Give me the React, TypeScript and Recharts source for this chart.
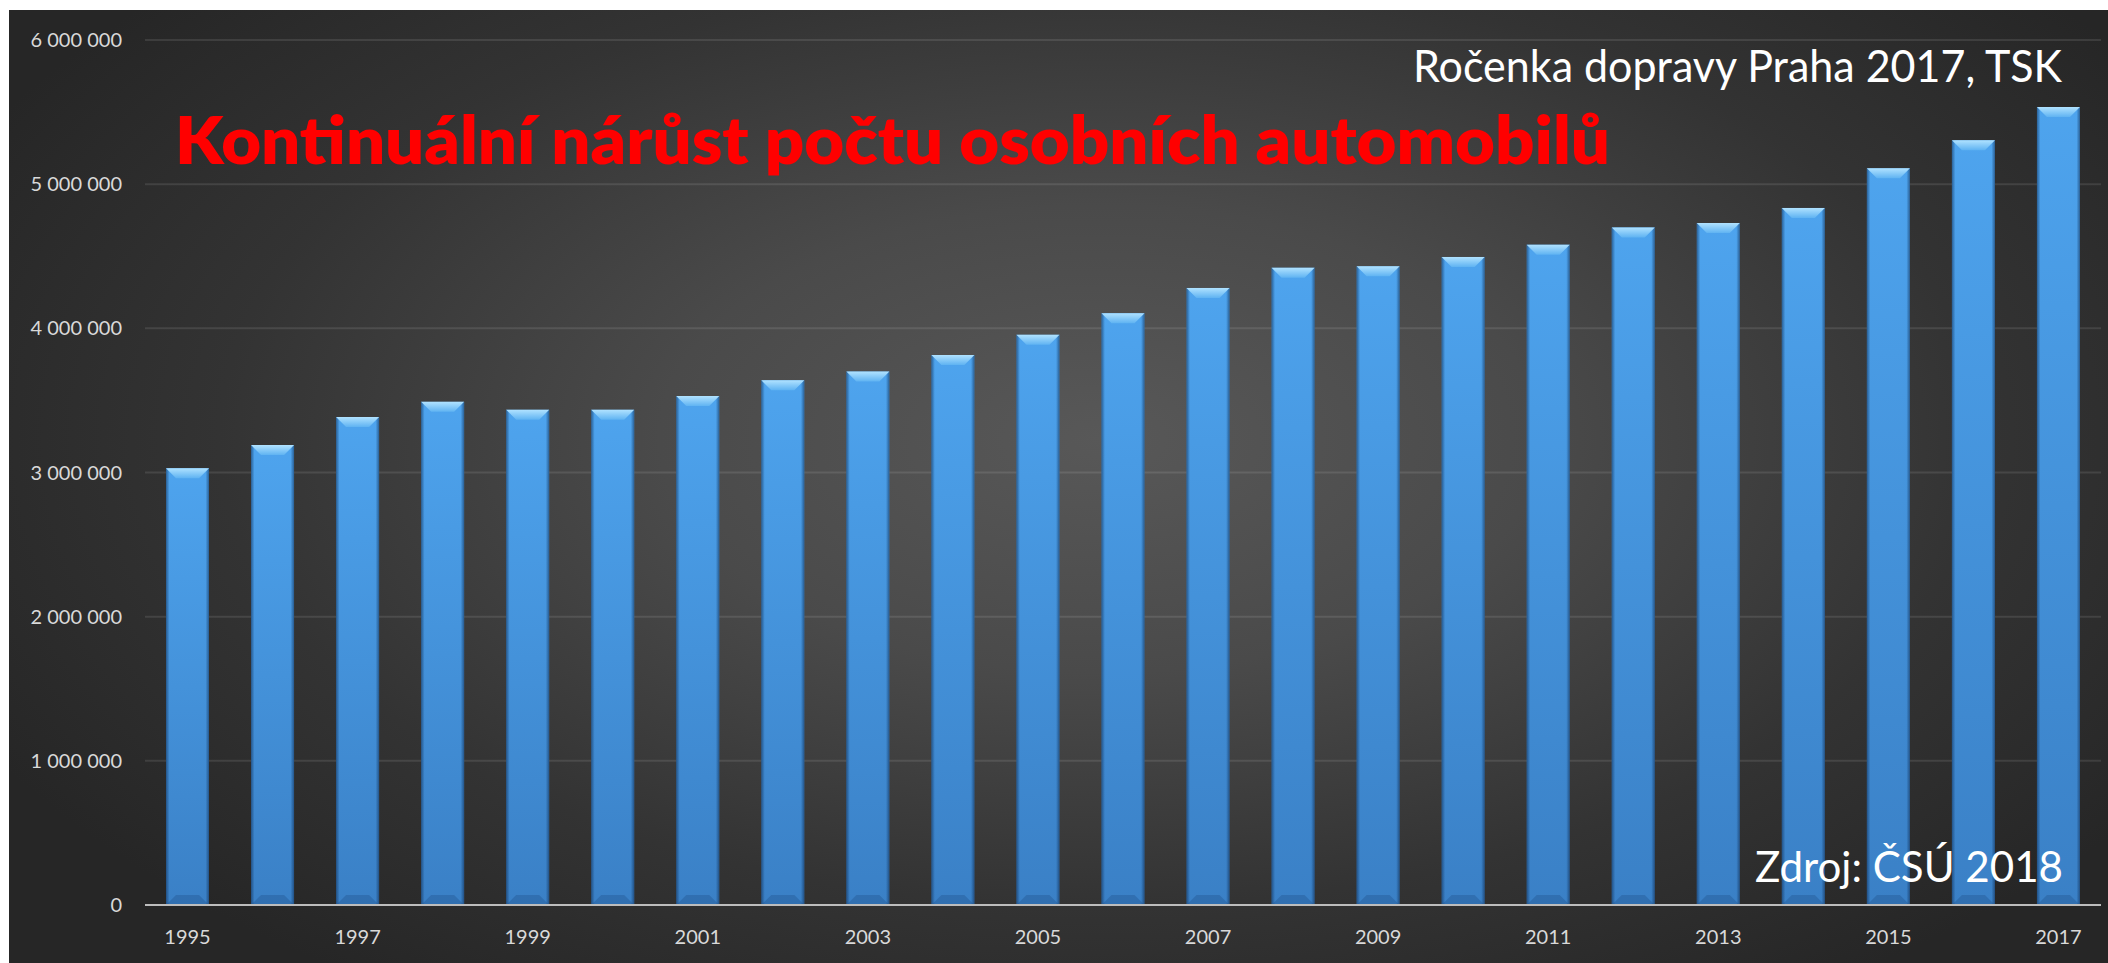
import { BarChart, Bar, XAxis, YAxis, CartesianGrid } from 'recharts';

const YEARS = [
  '1995', '1996', '1997', '1998', '1999', '2000', '2001', '2002', '2003', '2004', '2005', '2006',
  '2007', '2008', '2009', '2010', '2011', '2012', '2013', '2014', '2015', '2016', '2017',
];

// počet osobních automobilů
const CARS = [
  3030000, 3190000, 3385000, 3490000, 3435000, 3435000, 3530000, 3640000, 3700000, 3815000, 3955000, 4105000,
  4280000, 4420000, 4430000, 4495000, 4580000, 4700000, 4730000, 4835000, 5110000, 5305000, 5535000,
];

const Y_TICKS = [0, 1000000, 2000000, 3000000, 4000000, 5000000, 6000000];

const TITLE = 'Kontinuální nárůst počtu osobních automobilů';
const SUBTITLE = 'Ročenka dopravy Praha 2017, TSK';
const SOURCE = 'Zdroj: ČSÚ 2018';

const data = YEARS.map((year, i) => ({ year, value: CARS[i] }));

const W = 2099;
const H = 953;

const fmt = (v: number) => String(v).replace(/\B(?=(\d{3})+(?!\d))/g, ' ');

function BevelBar(props: any) {
  const { x, y, width, height } = props;
  if (!height || height <= 0) return null;
  const b = Math.min(10, width / 4);
  return (
    <g>
      <rect x={x} y={y} width={width} height={height} fill="url(#barBody)" />
      <rect x={x} y={y} width={width} height={height} fill="url(#barEdge)" />
      <polygon
        points={`${x},${y} ${x + width},${y} ${x + width - b},${y + b} ${x + b},${y + b}`}
        fill="url(#barTop)"
      />
      <polygon
        points={`${x},${y + height} ${x + width},${y + height} ${x + width - b},${y + height - b} ${x + b},${y + height - b}`}
        fill="rgba(20,60,110,0.25)"
      />
    </g>
  );
}

export default function App() {
  return (
    <div
      style={{
        position: 'absolute',
        left: 9,
        top: 10,
        width: W,
        height: H,
        background: 'radial-gradient(ellipse 60% 70% at 52% 45%, #585858 0%, #4a4a4a 35%, #333333 70%, #262626 100%)',
        fontFamily: 'Lato, "Open Sans", sans-serif',
      }}
    >
      <BarChart width={W} height={H} data={data} margin={{ top: 30, right: 7, bottom: 0, left: 0 }}>
        <defs>
          <linearGradient id="barBody" x1="0" y1="0" x2="0" y2="1">
            <stop offset="0%" stopColor="#4ea4ee" />
            <stop offset="100%" stopColor="#3a80c6" />
          </linearGradient>
          <linearGradient id="barEdge" x1="0" y1="0" x2="1" y2="0">
            <stop offset="0%" stopColor="#0d2a50" stopOpacity={0.55} />
            <stop offset="8%" stopColor="#0d2a50" stopOpacity={0} />
            <stop offset="92%" stopColor="#0d2a50" stopOpacity={0} />
            <stop offset="100%" stopColor="#0d2a50" stopOpacity={0.55} />
          </linearGradient>
          <linearGradient id="barTop" x1="0" y1="0" x2="0" y2="1">
            <stop offset="0%" stopColor="#b0e2ff" />
            <stop offset="100%" stopColor="#5fb3f2" />
          </linearGradient>
        </defs>
        <CartesianGrid vertical={false} stroke="rgba(255,255,255,0.1)" strokeWidth={2} />
        <XAxis
          dataKey="year"
          interval={1}
          height={58}
          tickSize={0}
          tickMargin={25}
          axisLine={{ stroke: '#bdbdbd', strokeWidth: 2 }}
          tickLine={false}
          tick={{ fill: '#d9d9d9', fontSize: 20, fontFamily: 'Lato, "Open Sans", sans-serif' }}
        />
        <YAxis
          domain={[0, 6000000]}
          ticks={Y_TICKS}
          width={136}
          tickSize={0}
          tickMargin={23}
          axisLine={false}
          tickLine={false}
          tickFormatter={fmt}
          tick={{ fill: '#d9d9d9', fontSize: 20, fontFamily: 'Lato, "Open Sans", sans-serif' }}
        />
        <Bar dataKey="value" barSize={43} shape={<BevelBar />} isAnimationActive={false} />
      </BarChart>
      <svg
        width={W}
        height={H}
        style={{ position: 'absolute', left: 0, top: 0, pointerEvents: 'none' }}
      >
        <text
          x={166}
          y={154}
          fill="#ff0000"
          fontSize={67}
          fontWeight={800}
          textLength={1435}
          lengthAdjust="spacingAndGlyphs"
          fontFamily='Lato, "Open Sans", sans-serif'
        >
          {TITLE}
        </text>
        <text
          x={1404}
          y={72}
          fill="#ffffff"
          fontSize={44}
          textLength={649}
          lengthAdjust="spacingAndGlyphs"
          fontFamily='Lato, "Open Sans", sans-serif'
        >
          {SUBTITLE}
        </text>
        <text
          x={1746}
          y={872}
          fill="#ffffff"
          fontSize={42}
          textLength={308}
          lengthAdjust="spacingAndGlyphs"
          fontFamily='Lato, "Open Sans", sans-serif'
        >
          {SOURCE}
        </text>
      </svg>
    </div>
  );
}
